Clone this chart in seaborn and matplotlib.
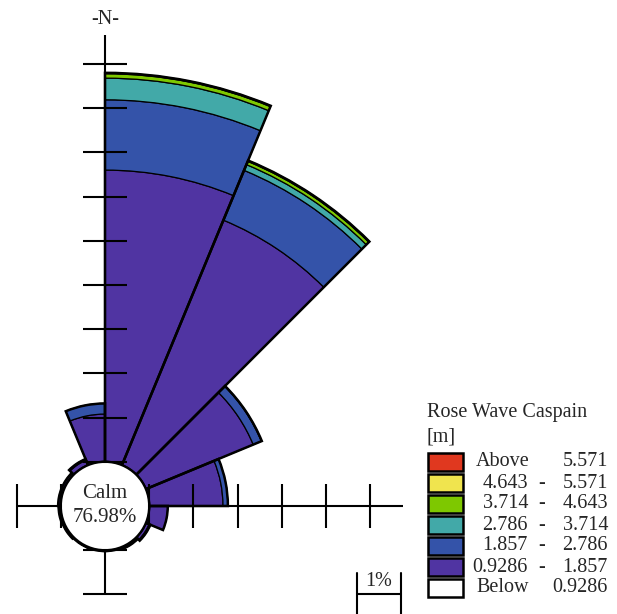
import numpy as np
import pandas as pd
import matplotlib
matplotlib.use("Agg")
import matplotlib.pyplot as plt
import seaborn as sns
from matplotlib.patches import Circle, Rectangle

# ---------------- data ----------------
sector_start_deg = [0.0, 22.5, 45.0, 67.5, 90.0, 112.5, 135.0, 157.5,
                    180.0, 202.5, 225.0, 247.5, 270.0, 292.5, 315.0, 337.5]
calm_pct = 76.98

# percent frequency per wave-height class, per sector
f_0928_1857 = [6.60, 6.00, 2.63, 1.67, 0.42, 0.08, 0.05, 0.02,
               0.02, 0.02, 0.04, 0.05, 0.06, 0.06, 0.12, 1.08]
f_1857_2786 = [1.59, 1.22, 0.20, 0.11, 0.00, 0.03, 0.00, 0.00,
               0.00, 0.00, 0.00, 0.00, 0.00, 0.00, 0.03, 0.24]
f_2786_3714 = [0.49, 0.14, 0.01, 0.00, 0.00, 0.00, 0.00, 0.00,
               0.00, 0.00, 0.00, 0.00, 0.00, 0.00, 0.00, 0.00]
f_3714_4643 = [0.10, 0.08, 0.00, 0.00, 0.00, 0.00, 0.00, 0.00,
               0.00, 0.00, 0.00, 0.00, 0.00, 0.00, 0.00, 0.00]
f_4643_5571 = [0.02, 0.02, 0.00, 0.00, 0.00, 0.00, 0.00, 0.00,
               0.00, 0.00, 0.00, 0.00, 0.00, 0.00, 0.00, 0.00]
f_above_5571 = [0.0] * 16

class_names = ["0.9286-1.857", "1.857-2.786", "2.786-3.714",
               "3.714-4.643", "4.643-5.571", "Above 5.571"]
class_colors = ["#5034a2", "#3453a9", "#42a9a8", "#7ec800", "#f0e44e", "#e0381f"]

legend_left = ["Above", "4.643", "3.714", "2.786", "1.857", "0.9286", "Below"]
legend_right = ["5.571", "5.571", "4.643", "3.714", "2.786", "1.857", "0.9286"]
legend_colors = ["#e0381f", "#f0e44e", "#7ec800", "#42a9a8", "#3453a9", "#5034a2", "#ffffff"]

legend_title = "Rose Wave Caspain"
legend_unit = "[m]"

# ---------------- style ----------------
sns.set_style("white")
plt.rcParams["font.family"] = ["Liberation Serif", "DejaVu Serif"]
palette = sns.color_palette(class_colors)

df = pd.DataFrame({"start": sector_start_deg})
for name, vals in zip(class_names, [f_0928_1857, f_1857_2786, f_2786_3714,
                                    f_3714_4643, f_4643_5571, f_above_5571]):
    df[name] = vals

W, H = 617, 614
cx, cy = 105.0, 506.0      # rose centre (pixels from top-left)
scale = 44.2               # pixels per 1 %
R = 11.0
calm_r = 1.0
FS = 14.5

fig = plt.figure(figsize=(W / 100, H / 100), dpi=100)
rect = [(cx - R * scale) / W, (H - cy - R * scale) / H, 2 * R * scale / W, 2 * R * scale / H]

# polar axes for the bars
pax = fig.add_axes(rect, projection="polar")
pax.set_theta_zero_location("N")
pax.set_theta_direction(-1)
pax.set_ylim(0, R)
pax.axis("off")
pax.patch.set_visible(False)

theta = np.deg2rad(df["start"].values)
width = np.deg2rad(22.5)
bottom = np.full(len(df), calm_r)
for name, col in zip(class_names, palette):
    h = df[name].values
    m = h > 0
    if m.any():
        pax.bar(theta[m], h[m], width=width, bottom=bottom[m], align="edge",
                color=col, edgecolor="black", linewidth=0.9)
    bottom = bottom + h
total = bottom - calm_r
pax.bar(theta, total, width=width, bottom=calm_r, align="edge",
        fill=False, edgecolor="black", linewidth=1.8)

# cartesian overlay for the cross, ticks, calm circle
ox = fig.add_axes(rect)
ox.set_xlim(-R, R)
ox.set_ylim(-R, R)
ox.axis("off")
ox.patch.set_visible(False)

arms = [((0, 1), 10.66, range(1, 11)),
        ((1, 0), 6.75, range(1, 7)),
        ((0, -1), 2.0, range(1, 3)),
        ((-1, 0), 2.0, range(1, 3))]
tick_half = 0.49
for (dx, dy), length, ticks in arms:
    ox.plot([0, dx * length], [0, dy * length], color="black", lw=1.5,
            zorder=4, solid_capstyle="butt")
    for t in ticks:
        px, py = dx * t, dy * t
        qx, qy = -dy * tick_half, dx * tick_half
        ox.plot([px - qx, px + qx], [py - qy, py + qy], color="black",
                lw=1.5, zorder=6, solid_capstyle="butt")

ox.add_patch(Circle((0, 0), calm_r, facecolor="white", edgecolor="black",
                    lw=1.6, zorder=5))
ox.text(0, 0.29, "Calm", ha="center", va="center", fontsize=15, zorder=7)
ox.text(0, -0.26, f"{calm_pct:.2f}%", ha="center", va="center", fontsize=15, zorder=7)

# scale bar (1 %)
sx0 = (357 - cx) / scale
sy = (cy - 594) / scale
ox.plot([sx0, sx0 + 1.0], [sy, sy], color="black", lw=1.5)
for xx in (sx0, sx0 + 1.0):
    ox.plot([xx, xx], [(cy - 573) / scale, -3.0], color="black", lw=1.5)
ox.text(sx0 + 0.5, (cy - 582) / scale, "1%", ha="center", va="center", fontsize=FS)

# pixel-space axes for the remaining text and legend
lax = fig.add_axes([0, 0, 1, 1])
lax.set_xlim(0, W)
lax.set_ylim(H, 0)
lax.axis("off")
lax.patch.set_visible(False)

lax.text(cx, 19, "-N-", ha="center", va="center", fontsize=FS)

lax.text(427, 413, legend_title, ha="left", va="center", fontsize=FS)
lax.text(427, 437, legend_unit, ha="left", va="center", fontsize=FS)
row0, pitch = 462.0, 21.0
for i, (lt, rt, col) in enumerate(zip(legend_left, legend_right, legend_colors)):
    yc = row0 + i * pitch
    lax.add_patch(Rectangle((428, yc - 9.0), 35, 18, facecolor=col,
                            edgecolor="black", lw=1.8))
    if lt in ("Above", "Below"):
        lax.text(476, yc, lt, ha="left", va="center", fontsize=FS)
    else:
        lax.text(528, yc, lt, ha="right", va="center", fontsize=FS)
        lax.text(542, yc, "-", ha="center", va="center", fontsize=FS)
    lax.text(608, yc, rt, ha="right", va="center", fontsize=FS)

fig.savefig("out.png", dpi=100)
